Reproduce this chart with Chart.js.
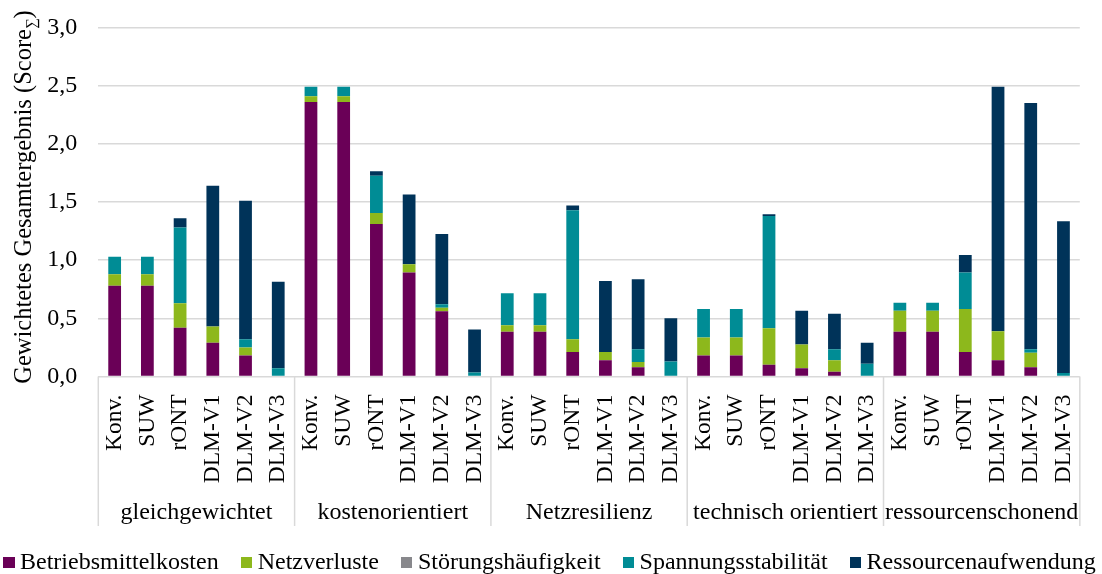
<!DOCTYPE html>
<html lang="de">
<head>
<meta charset="utf-8">
<title>Gewichtetes Gesamtergebnis</title>
<script src="https://cdn.jsdelivr.net/npm/chart.js@4.4.0/dist/chart.umd.min.js"></script>
<style>
  body { margin: 0; background: #fff; }
  #wrap { position: relative; width: 1102px; height: 574px; overflow: hidden; }
  #chart { position: absolute; left: 0; top: 0; }
  #legend {
    position: absolute; left: 3px; top: 549px;
    display: flex; align-items: center; white-space: nowrap;
    font: 24px 'Liberation Serif', 'Times New Roman', serif; line-height: 24px; color: #000;
  }
  #legend .item { display: flex; align-items: center; margin-right: 22px; }
  #legend .box { width: 11.5px; height: 11.5px; margin-right: 5.5px; position: relative; top: 1.5px; }
</style>
</head>
<body>
<div id="wrap">
  <canvas id="chart" width="1102" height="574"></canvas>
  <div id="legend"></div>
</div>
<script>
const SERIF = "'Liberation Serif', 'Times New Roman', serif";

const groups   = ['gleichgewichtet', 'kostenorientiert', 'Netzresilienz', 'technisch orientiert', 'ressourcenschonend'];
const variants = ['Konv.', 'SUW', 'rONT', 'DLM-V1', 'DLM-V2', 'DLM-V3'];

// one value per bar, six variants per weighting scenario
const betriebsmittelkosten = [
  0.78, 0.78, 0.42, 0.29, 0.18, 0,
  2.36, 2.36, 1.31, 0.895, 0.56, 0,
  0.385, 0.385, 0.21, 0.14, 0.08, 0,
  0.18, 0.18, 0.10, 0.07, 0.04, 0,
  0.385, 0.385, 0.21, 0.14, 0.08, 0,
];
const netzverluste = [
  0.10, 0.10, 0.21, 0.14, 0.07, 0,
  0.05, 0.05, 0.095, 0.07, 0.03, 0,
  0.055, 0.055, 0.11, 0.07, 0.045, 0,
  0.155, 0.155, 0.315, 0.205, 0.10, 0,
  0.18, 0.18, 0.37, 0.25, 0.125, 0,
];
const stoerungshaeufigkeit = [
  0, 0, 0, 0, 0, 0,
  0, 0, 0, 0, 0, 0,
  0, 0, 0, 0, 0, 0,
  0, 0, 0, 0, 0, 0,
  0, 0, 0, 0, 0, 0,
];
const spannungsstabilitaet = [
  0.15, 0.15, 0.65, 0, 0.07, 0.07,
  0.08, 0.08, 0.32, 0, 0.03, 0.035,
  0.275, 0.275, 1.11, 0, 0.11, 0.13,
  0.245, 0.245, 0.965, 0, 0.095, 0.11,
  0.07, 0.07, 0.315, 0, 0.03, 0.03,
];
const ressourcenaufwendung = [
  0, 0, 0.08, 1.21, 1.19, 0.745,
  0, 0, 0.04, 0.60, 0.605, 0.37,
  0, 0, 0.04, 0.61, 0.60, 0.37,
  0, 0, 0.015, 0.29, 0.305, 0.18,
  0, 0, 0.15, 2.10, 2.115, 1.305,
];

const yTicks = [0, 0.5, 1.0, 1.5, 2.0, 2.5, 3.0];

const labels = groups.flatMap(() => variants);

const series = [
  { label: 'Betriebsmittelkosten', data: betriebsmittelkosten, color: '#6A0057' },
  { label: 'Netzverluste',         data: netzverluste,         color: '#8DB81C' },
  { label: 'Störungshäufigkeit',   data: stoerungshaeufigkeit, color: '#88888C' },
  { label: 'Spannungsstabilität',  data: spannungsstabilitaet, color: '#008C95' },
  { label: 'Ressourcenaufwendung', data: ressourcenaufwendung, color: '#003359' },
];

const GRID = '#d9d9d9';

// group separators + group names below the rotated variant labels, axis title
const groupAxis = {
  id: 'groupAxis',
  afterDraw(chart) {
    const { ctx, chartArea, scales: { x } } = chart;
    const per = variants.length;
    const step = (x.right - x.left) / labels.length;
    ctx.save();
    ctx.strokeStyle = GRID;
    ctx.lineWidth = 1.5;
    for (let g = 0; g <= groups.length; g++) {
      const px = x.left + g * per * step;
      ctx.beginPath();
      ctx.moveTo(px, chartArea.bottom);
      ctx.lineTo(px, 526);
      ctx.stroke();
    }
    ctx.fillStyle = '#000';
    ctx.font = `24px ${SERIF}`;
    ctx.textAlign = 'center';
    ctx.textBaseline = 'alphabetic';
    groups.forEach((name, g) => {
      const cx = x.left + (g + 0.5) * per * step;
      ctx.fillText(name, cx, 519);
    });

    // y axis title with subscript sigma
    const main = 'Gewichtetes Gesamtergebnis (Score';
    const sub = '\u2211';
    const tail = ')';
    const big = `24.5px ${SERIF}`;
    const small = `15px ${SERIF}`;
    ctx.font = big;
    const wMain = ctx.measureText(main).width;
    const wTail = ctx.measureText(tail).width;
    ctx.font = small;
    const wSub = ctx.measureText(sub).width;
    const total = wMain + wSub + wTail;
    ctx.translate(31, 197);
    ctx.rotate(-Math.PI / 2);
    ctx.textAlign = 'left';
    let tx = -total / 2;
    ctx.font = big;
    ctx.fillText(main, tx, 0);
    tx += wMain;
    ctx.font = small;
    ctx.fillText(sub, tx, 5);
    tx += wSub;
    ctx.font = big;
    ctx.fillText(tail, tx, 0);
    ctx.restore();
  },
};

const chart = new Chart(document.getElementById('chart'), {
  type: 'bar',
  data: {
    labels,
    datasets: series.map(s => ({
      label: s.label,
      data: s.data,
      backgroundColor: s.color,
      borderWidth: 0,
      barPercentage: 0.39,
      categoryPercentage: 1,
    })),
  },
  options: {
    responsive: false,
    animation: false,
    layout: { padding: { top: 27.5, right: 20.5, left: 0, bottom: 0 } },
    plugins: {
      legend: { display: false },
      tooltip: { enabled: false },
    },
    scales: {
      x: {
        stacked: true,
        grid: { display: false },
        border: { display: false },
        ticks: {
          autoSkip: false,
          minRotation: 90,
          maxRotation: 90,
          padding: 10,
          color: '#000',
          font: { family: SERIF, size: 23.5 },
        },
        afterFit: scale => { scale.height = 574 - 376.5; },
      },
      y: {
        stacked: true,
        min: 0,
        max: 3,
        afterBuildTicks: scale => { scale.ticks = yTicks.map(v => ({ value: v })); },
        ticks: {
          padding: 0,
          color: '#000',
          font: { family: SERIF, size: 24 },
          callback: v => v.toFixed(1).replace('.', ','),
        },
        // invisible tick marks keep the labels away from the plot
        grid: { color: GRID, lineWidth: 1.5, drawTicks: true, tickLength: 21, tickColor: 'rgba(0,0,0,0)' },
        border: { display: false },
        afterFit: scale => { scale.width = 98.3; },
      },
    },
  },
  plugins: [groupAxis],
});

// legend row
const legendEl = document.getElementById('legend');
series.forEach(s => {
  const item = document.createElement('div');
  item.className = 'item';
  const box = document.createElement('span');
  box.className = 'box';
  box.style.background = s.color;
  const txt = document.createElement('span');
  txt.textContent = s.label;
  item.append(box, txt);
  legendEl.appendChild(item);
});
</script>
</body>
</html>
